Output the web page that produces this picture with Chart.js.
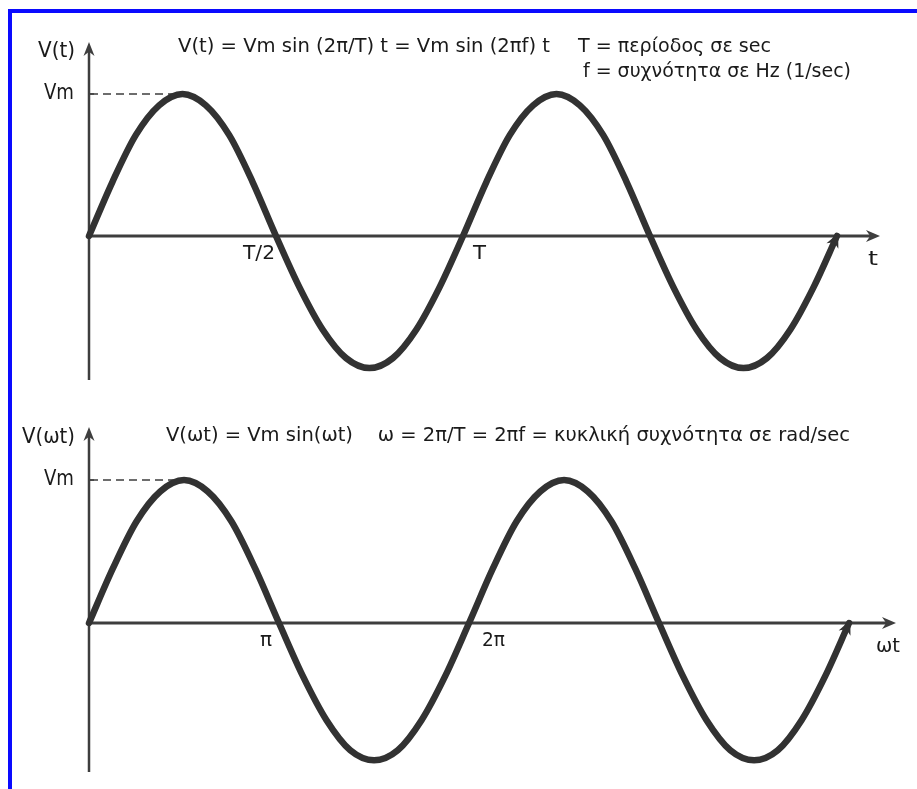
<!DOCTYPE html>
<html><head><meta charset="utf-8">
<script src="https://cdn.jsdelivr.net/npm/chart.js@4.4.1/dist/chart.umd.min.js"></script>
<style>
html,body{margin:0;padding:0;background:#fff;width:917px;height:789px;overflow:hidden}
#frame{position:absolute;left:8px;top:9px;width:909px;height:780px;border-top:4px solid #0a0aff;border-left:4px solid #0a0aff;box-sizing:border-box}
.wrap{position:absolute;left:0;width:917px}
#w1{top:0;height:400px}
#w2{top:400px;height:389px}
</style></head>
<body>
<div id="frame"></div>
<div class="wrap" id="w1"><canvas id="c1"></canvas></div>
<div class="wrap" id="w2"><canvas id="c2"></canvas></div>
<script>
// ---- data ----
// top panel: time in units of the period T, value in units of Vm
const topTime = [0,0.0625,0.125,0.1875,0.25,0.3125,0.375,0.4375,0.5,0.5625,0.625,0.6875,0.75,0.8125,0.875,0.9375,1,
                 1.0625,1.125,1.1875,1.25,1.3125,1.375,1.4375,1.5,1.5625,1.625,1.6875,1.75,1.8125,1.875,1.9375,2];
const topV = [0,0.38,0.71,0.92,1,0.92,0.71,0.38,0,-0.36,-0.66,-0.86,-0.93,-0.86,-0.66,-0.36,0,
              0.38,0.71,0.92,1,0.92,0.71,0.38,0,-0.36,-0.66,-0.86,-0.93,-0.86,-0.66,-0.36,0];
// bottom panel: angle ωt in units of π, value in units of Vm
const botAngle = [0,0.125,0.25,0.375,0.5,0.625,0.75,0.875,1,1.125,1.25,1.375,1.5,1.625,1.75,1.875,2,
                  2.125,2.25,2.375,2.5,2.625,2.75,2.875,3,3.125,3.25,3.375,3.5,3.625,3.75,3.875,4];
const botV = [0,0.38,0.71,0.92,1,0.92,0.71,0.38,0,-0.37,-0.68,-0.89,-0.96,-0.89,-0.68,-0.37,0,
              0.38,0.71,0.92,1,0.92,0.71,0.38,0,-0.37,-0.68,-0.89,-0.96,-0.89,-0.68,-0.37,0];
// tick labels
const topTickValues = [0.5, 1];
const topTickLabels = ['T/2', 'T'];
const botTickValues = [1, 2];
const botTickLabels = ['π', '2π'];
// texts
const topYLabel = 'V(t)';
const topXLabel = 't';
const botYLabel = 'V(ωt)';
const botXLabel = 'ωt';
const peakLabel = 'Vm';
const topTitle = 'V(t) = Vm sin (2π/T) t = Vm sin (2πf) t';
const topNote1 = 'T = περίοδος σε sec';
const topNote2 = 'f = συχνότητα σε Hz (1/sec)';
const botTitle = 'V(ωt) = Vm sin(ωt)    ω = 2π/T = 2πf = κυκλική συχνότητα σε rad/sec';

const INK = '#1a1a1a';
const LINE = '#323232';
const AXIS = '#3e3e3e';

function fitText(ctx, txt, x, y, size, family, align, width) {
  ctx.save();
  ctx.font = size + 'px ' + family;
  ctx.fillStyle = INK;
  ctx.textBaseline = 'middle';
  const w = ctx.measureText(txt).width;
  const sx = width ? width / w : 1;
  const rw = w * sx;
  let left = x;
  if (align === 'right') left = x - rw;
  else if (align === 'center') left = x - rw / 2;
  ctx.translate(left, y);
  ctx.scale(sx, 1);
  ctx.textAlign = 'left';
  ctx.fillText(txt, 0, 0);
  ctx.restore();
}

function arrowHead(ctx, x, y, ang, len, half, color) {
  ctx.save();
  ctx.fillStyle = color;
  ctx.translate(x, y);
  ctx.rotate(ang);
  ctx.beginPath();
  ctx.moveTo(0, 0);
  ctx.lineTo(-len, -half);
  ctx.lineTo(-len * 0.7, 0);
  ctx.lineTo(-len, half);
  ctx.closePath();
  ctx.fill();
  ctx.restore();
}

function makePlugin(cfg) {
  return {
    id: 'decor',
    beforeDatasetsDraw(chart) {
      const ctx = chart.ctx, xs = chart.scales.x, ys = chart.scales.y;
      const x0 = xs.getPixelForValue(0), y0 = ys.getPixelForValue(0);
      const xEnd = xs.getPixelForValue(xs.max);
      const yTop = ys.getPixelForValue(ys.max), yBot = ys.getPixelForValue(ys.min);
      ctx.save();
      ctx.strokeStyle = AXIS;
      // x axis
      ctx.lineWidth = 3;
      ctx.beginPath(); ctx.moveTo(x0, y0); ctx.lineTo(xEnd - 6, y0); ctx.stroke();
      arrowHead(ctx, xEnd, y0, 0, 14, 6, AXIS);
      // y axis
      ctx.lineWidth = 2.5;
      ctx.beginPath(); ctx.moveTo(x0, yBot); ctx.lineTo(x0, yTop + 6); ctx.stroke();
      arrowHead(ctx, x0, yTop, -Math.PI / 2, 14, 5.5, AXIS);
      // dashed Vm line
      const yP = ys.getPixelForValue(1);
      const xP = xs.getPixelForValue(cfg.peakAt);
      ctx.lineWidth = 1.5;
      ctx.setLineDash([8, 5]);
      ctx.beginPath(); ctx.moveTo(x0 + 1, yP); ctx.lineTo(xP, yP); ctx.stroke();
      ctx.setLineDash([]);
      ctx.beginPath(); ctx.moveTo(x0, yP); ctx.lineTo(x0 + 5, yP); ctx.stroke();
      ctx.restore();
      // texts
      const F = '"DejaVu Sans Condensed", "DejaVu Sans", sans-serif';
      const F2 = '"DejaVu Sans", sans-serif';
      fitText(ctx, cfg.yLabel, x0 - 14, yTop + cfg.yLabelDy, 21, F, 'right', cfg.yLabelW);
      fitText(ctx, peakLabel, x0 - 15, yP, 21, F, 'right', 30);
      cfg.ticks.forEach((v, i) => {
        const px = xs.getPixelForValue(v);
        const d = cfg.tickDx[i];
        fitText(ctx, cfg.tickLabels[i], px + d, y0 + 18, 19, F2, d < 0 ? 'right' : 'left', cfg.tickW[i]);
      });
      fitText(ctx, cfg.xLabel, xEnd - cfg.xLabelDx, y0 + 24, 20, F2, 'left', cfg.xLabelW);
      cfg.texts.forEach(tx => fitText(ctx, tx.t, tx.x, tx.y, 20, F, 'left', tx.w));
    },
    afterDatasetsDraw(chart) {
      const pts = chart.getDatasetMeta(0).data;
      const a = pts[pts.length - 2], b = pts[pts.length - 1];
      const ang = Math.atan2(b.y - a.y, b.x - a.x);
      arrowHead(chart.ctx, b.x + Math.cos(ang) * 3, b.y + Math.sin(ang) * 3, ang, 14, 6.5, LINE);
    }
  };
}

function build(id, xsArr, ysArr, xmax, ymin, ymax, pad, cfg) {
  return new Chart(document.getElementById(id), {
    type: 'line',
    data: { datasets: [{
      data: xsArr.map((x, i) => ({ x: x, y: ysArr[i] })),
      borderColor: LINE, borderWidth: 6.5, pointRadius: 0,
      cubicInterpolationMode: 'monotone', fill: false, clip: false,
      borderCapStyle: 'round', borderJoinStyle: 'round'
    }]},
    options: {
      responsive: true, maintainAspectRatio: false, animation: false,
      layout: { padding: pad },
      plugins: { legend: { display: false }, tooltip: { enabled: false } },
      scales: {
        x: { type: 'linear', min: 0, max: xmax, display: false },
        y: { type: 'linear', min: ymin, max: ymax, display: false }
      }
    },
    plugins: [makePlugin(cfg)]
  });
}

build('c1', topTime, topV, 2.115, -1.014, 1.366,
  { left: 89, right: 37, top: 42, bottom: 20 },
  { peakAt: 0.25, yLabel: topYLabel, yLabelDy: 10, yLabelW: 37, xLabel: topXLabel, xLabelDx: 12, xLabelW: 10,
    ticks: topTickValues, tickLabels: topTickLabels, tickDx: [-1, 10], tickW: [32, 13],
    texts: [
      { t: topTitle, x: 178, y: 47, w: 372 },
      { t: topNote1, x: 578, y: 47, w: 193 },
      { t: topNote2, x: 583, y: 72, w: 268 }
    ] });

build('c2', botAngle, botV, 4.247, -1.042, 1.371,
  { left: 89, right: 21, top: 27, bottom: 17 },
  { peakAt: 0.5, yLabel: botYLabel, yLabelDy: 11, yLabelW: 53, xLabel: botXLabel, xLabelDx: 20, xLabelW: 24,
    ticks: botTickValues, tickLabels: botTickLabels, tickDx: [-7, 13], tickW: [12, 23],
    texts: [
      { t: botTitle, x: 166, y: 36, w: 684 }
    ] });
</script>
</body></html>
